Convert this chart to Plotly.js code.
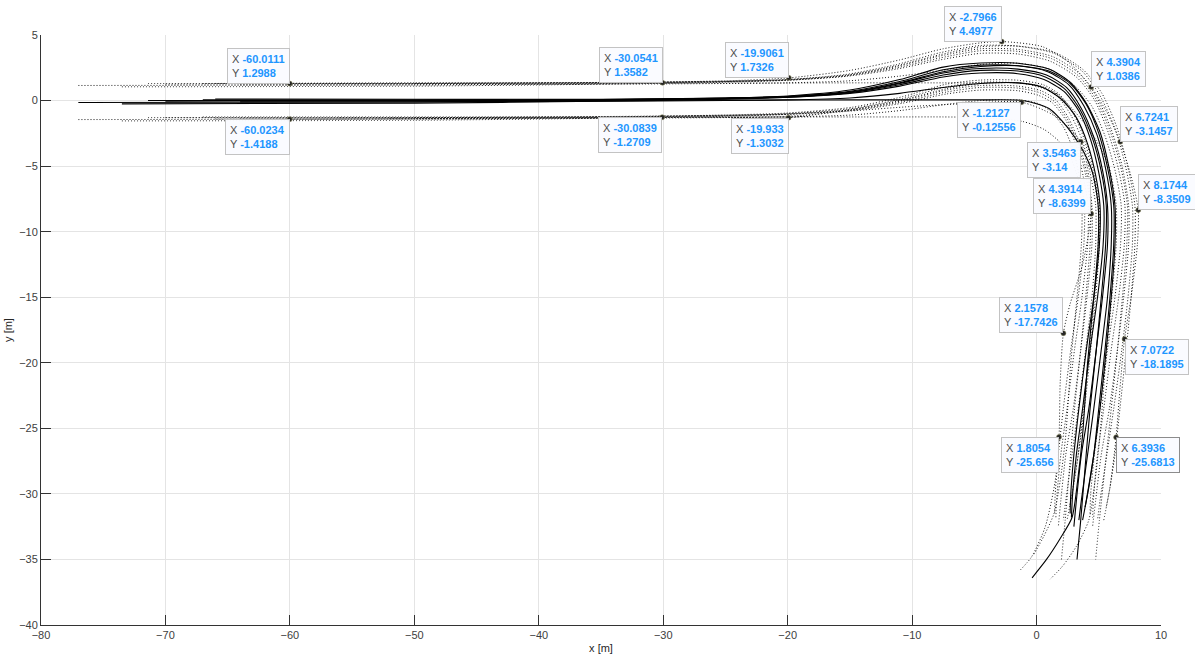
<!DOCTYPE html>
<html>
<head>
<meta charset="utf-8">
<script src="https://cdn.plot.ly/plotly-3.0.1.min.js"></script>
<style>html,body{margin:0;padding:0;background:#fff;}#chart{width:1195px;height:658px;}</style>
</head>
<body>
<div id="chart"></div>
<script>
// ---------- Solid trajectories ----------
const sa_x = [-56, -50, -35, -25, -20, -15, -11, -7.5, -4.5, -1.5, 1.0, 2.7, 4.0, 5.1, 5.8, 6.3, 6.3, 6.0, 5.6, 5.1, 4.6, 4.0, 3.7];
const sa_y = [0.0, 0.0, 0.05, 0.2, 0.35, 0.8, 1.6, 2.55, 2.86, 2.85, 2.4, 1.4, -0.2, -2.4, -5.0, -8.0, -11, -15, -19, -23.5, -27, -30.5, -32];
const sb_x = [-77, -50, -35, -25, -20, -15, -11, -7.5, -4.5, -1.5, 0.9, 2.6, 3.8, 4.85, 5.55, 6.0, 6.0, 5.7, 5.2, 4.6, 4.1, 3.6, 3.4];
const sb_y = [-0.15, -0.1, 0.0, 0.15, 0.3, 0.7, 1.45, 2.35, 2.7, 2.65, 2.2, 1.2, -0.4, -2.6, -5.2, -8.0, -11, -15, -19, -23.5, -27, -30.5, -32];
const sc_x = [-73.5, -50, -35, -25, -20, -15, -11, -7.5, -4.5, -1.5, 0.8, 2.4, 3.6, 4.6, 5.3, 5.7, 5.7, 5.3, 4.8, 4.2, 3.6, 3.2, 3.0];
const sc_y = [-0.25, -0.2, -0.05, 0.1, 0.25, 0.6, 1.3, 2.1, 2.45, 2.4, 1.95, 1.0, -0.6, -2.8, -5.3, -8.0, -11, -15, -19, -23.5, -27, -30.5, -32.5];
const sd_x = [-71.4, -50, -35, -25, -20, -15, -11, -7.5, -4.5, -1.5, 0.6, 2.2, 3.4, 4.35, 5.0, 5.4, 5.35, 4.9, 4.3, 3.7, 3.2, 2.9, 2.8];
const sd_y = [0.0, 0.0, 0.05, 0.15, 0.25, 0.55, 1.1, 1.8, 2.1, 2.05, 1.6, 0.7, -0.8, -3.0, -5.5, -8.0, -11, -15, -19, -23.5, -27, -30, -31.8];
const se_x = [-66, -50, -35, -25, -20, -15, -11, -7.5, -4.5, -1.5, 1.0, 2.7, 4.0, 5.0, 5.7, 6.2, 6.2, 5.9, 5.5, 5.0, 4.6, 4.2, 3.9];
const se_y = [0.12, 0.1, 0.1, 0.2, 0.3, 0.65, 1.35, 2.2, 2.6, 2.65, 2.25, 1.3, -0.3, -2.5, -5.1, -8.0, -11, -15, -19, -23.5, -27, -29.5, -31];
const sf_x = [-64, -50, -35, -25, -20, -15, -11, -7.5, -4.5, -1.5, 0.5, 2.0, 3.2, 4.1, 4.75, 5.1, 5.05, 4.6, 4.0, 3.4, 3.0, 2.75, 2.7];
const sf_y = [-0.1, -0.1, -0.05, 0.0, 0.05, 0.2, 0.55, 1.0, 1.3, 1.35, 1.0, 0.1, -1.3, -3.3, -5.7, -8.0, -11, -15, -19, -23.5, -27, -30, -31.5];
const sg_x = [-70, -50, -35, -25, -20, -15, -11, -7.5, -4.5, -1.1, 1.0, 2.45, 3.6, 4.5, 4.95, 4.95, 4.6, 4.1, 3.7, 3.3, 2.85, 1.9, 0.8, -0.36];
const sg_y = [-0.05, 0.0, 0.02, 0.03, 0.04, 0.05, 0.05, 0.05, 0.05, 0.0, -0.6, -2.0, -3.6, -5.5, -8.0, -11, -15, -20, -25.5, -29, -31.8, -33.4, -35, -36.4];
const sh_x = [-67, -50, -35, -25, -20, -15, -11, -7.5, -4.5, -1.5, 0.7, 2.3, 3.5, 4.5, 5.2, 5.6, 5.55, 5.2, 4.8, 4.3, 3.9, 3.55, 3.25];
const sh_y = [0.05, 0.05, 0.08, 0.18, 0.28, 0.6, 1.2, 1.95, 2.3, 2.25, 1.8, 0.85, -0.7, -2.9, -5.4, -8.0, -11, -15, -19, -23.5, -28, -32, -35];

// ---------- Dotted outer bounds ----------
const oa_x = [-56, -50, -35, -25, -19.9, -15, -11, -7.5, -4.5, -2.8, 0.5, 2.6, 4.39, 5.7, 6.72, 7.6, 8.17, 8.1, 7.6, 7.07, 6.7, 6.39, 5.9, 5.4];
const oa_y = [1.3, 1.3, 1.38, 1.5, 1.73, 2.3, 3.1, 3.95, 4.4, 4.5, 4.1, 2.9, 1.04, -1.0, -3.15, -5.8, -8.35, -11, -15, -18.19, -22, -25.68, -29.5, -32];
const ob_x = [-77, -50, -35, -25, -20, -15.25, -11.25, -7.75, -4.5, -1.5, 1.4, 3.65, 5.05, 6.25, 7.1, 7.7, 7.7, 7.35, 6.85, 6.2, 5.65, 5.1, 4.9];
const ob_y = [1.15, 1.2, 1.3, 1.45, 1.6, 2.0, 2.75, 3.65, 4.2, 4.15, 3.6, 2.25, 0.45, -2.0, -4.8, -8.0, -11, -15, -19, -23.5, -27, -30.5, -32];
const oc_x = [-73.5, -50, -35, -25, -20, -15.25, -11.25, -7.75, -4.5, -1.5, 1.3, 3.45, 4.85, 6.0, 6.85, 7.4, 7.4, 7.0, 6.5, 5.85, 5.2, 4.75, 4.5];
const oc_y = [1.05, 1.1, 1.25, 1.4, 1.55, 1.9, 2.6, 3.4, 3.95, 3.9, 3.35, 2.05, 0.25, -2.2, -4.9, -8.0, -11, -15, -19, -23.5, -27, -30.5, -32.5];
const od_x = [-71.4, -50, -35, -25, -20, -15.25, -11.25, -7.75, -4.5, -1.5, 1.1, 3.25, 4.65, 5.75, 6.55, 7.1, 7.05, 6.6, 6.0, 5.4, 4.9, 4.6, 4.5];
const od_y = [1.3, 1.3, 1.35, 1.45, 1.55, 1.85, 2.4, 3.1, 3.6, 3.55, 3.0, 1.75, 0.05, -2.4, -5.1, -8.0, -11, -15, -19, -23.5, -27, -30, -31.8];
const oe_x = [-66, -60.0111, -50, -30.0541, -25, -20, -15.25, -11.25, -7.75, -4.5, -1.5, 1.5, 3.75, 5.25, 6.4, 7.25, 7.9, 7.9, 7.6, 7.2, 6.7, 6.3, 5.9, 5.6];
const oe_y = [1.3, 1.2988, 1.32, 1.3582, 1.45, 1.6, 1.95, 2.65, 3.5, 4.1, 4.15, 3.65, 2.35, 0.55, -1.9, -4.7, -8.0, -11, -15, -19, -23.5, -27, -29.5, -31];
const of_x = [-64, -50, -35, -25, -20, -15.15, -11.15, -7.6, -4.5, -1.5, 1.0, 3.05, 4.45, 5.5, 6.3, 6.8, 6.75, 6.3, 5.7, 5.1, 4.65, 4.35, 4.3];
const of_y = [1.2, 1.2, 1.25, 1.3, 1.35, 1.5, 1.85, 2.3, 2.75, 2.85, 2.4, 1.15, -0.45, -2.7, -5.3, -8.0, -11, -15, -19, -23.5, -27, -30, -31.5];
const og_x = [-70, -50, -35, -25, -20, -15, -11, -7.5, -4.5, -0.9, 1.6, 3.4, 4.7, 5.8, 6.4, 6.4, 6.05, 5.55, 5.1, 4.7, 4.2, 3.2, 2.1, 1.1];
const og_y = [1.25, 1.3, 1.32, 1.33, 1.34, 1.35, 1.35, 1.35, 1.35, 1.3, 0.5, -1.2, -2.9, -5.0, -8.0, -11, -15, -20, -25.5, -29, -32, -34, -35.5, -36.5];
const oh_x = [-67, -50, -35, -25, -20, -15.25, -11.25, -7.75, -4.5, -1.5, 1.2, 3.35, 4.75, 5.9, 6.75, 7.3, 7.25, 6.9, 6.5, 6.0, 5.5, 5.05, 4.75];
const oh_y = [1.3, 1.35, 1.38, 1.48, 1.58, 1.9, 2.5, 3.25, 3.8, 3.75, 3.2, 1.9, 0.15, -2.3, -5.0, -8.0, -11, -15, -19, -23.5, -28, -32, -35];

// ---------- Dotted inner bounds ----------
const ia_x = [-56, -50, -35, -25, -20, -14.75, -10.75, -7.25, -4.5, -1.5, 0.55, 1.8, 2.95, 3.95, 4.55, 5.05, 5.05, 4.75, 4.35, 3.85, 3.35, 2.75, 2.45];
const ia_y = [-1.3, -1.3, -1.25, -1.1, -0.95, -0.5, 0.3, 1.25, 1.56, 1.55, 1.2, 0.5, -0.9, -2.9, -5.3, -8.0, -11, -15, -19, -23.5, -27, -30.5, -32];
const ib_x = [-77, -50, -35, -25, -20, -14.75, -10.75, -7.25, -4.5, -1.5, 0.45, 1.7, 2.75, 3.7, 4.3, 4.75, 4.75, 4.45, 3.95, 3.35, 2.85, 2.35, 2.15];
const ib_y = [-1.45, -1.4, -1.3, -1.15, -1.0, -0.6, 0.15, 1.05, 1.4, 1.35, 1.0, 0.3, -1.1, -3.1, -5.5, -8.0, -11, -15, -19, -23.5, -27, -30.5, -32];
const ic_x = [-73.5, -50, -35, -25, -20, -14.75, -10.75, -7.25, -4.5, -1.5, 0.35, 1.5, 2.55, 3.45, 4.05, 4.45, 4.45, 4.05, 3.55, 2.95, 2.35, 1.95, 1.75];
const ic_y = [-1.55, -1.5, -1.35, -1.2, -1.05, -0.7, 0.0, 0.8, 1.15, 1.1, 0.75, 0.1, -1.3, -3.3, -5.6, -8.0, -11, -15, -19, -23.5, -27, -30.5, -32.5];
const id_x = [-71.4, -50, -35, -25, -20, -14.75, -10.75, -7.25, -4.5, -1.5, 0.15, 1.3, 2.35, 3.2, 3.75, 4.15, 4.1, 3.65, 3.05, 2.45, 1.95, 1.65, 1.55];
const id_y = [-1.3, -1.3, -1.25, -1.15, -1.05, -0.75, -0.2, 0.5, 0.8, 0.75, 0.4, -0.2, -1.5, -3.5, -5.8, -8.0, -11, -15, -19, -23.5, -27, -30, -31.8];
const ie_x = [-66, -60.0234, -50, -30.0839, -25, -19.933, -14.75, -10.75, -7.25, -4.5, -1.5, 0.55, 1.8, 2.95, 3.85, 4.45, 4.95, 4.95, 4.65, 4.25, 3.75, 3.35, 2.95, 2.65];
const ie_y = [-1.4, -1.4188, -1.38, -1.2709, -1.28, -1.3032, -0.65, 0.05, 0.9, 1.3, 1.35, 1.05, 0.4, -1.0, -3.0, -5.4, -8.0, -11, -15, -19, -23.5, -27, -29.5, -31];
const if_x = [-64, -50, -35, -25, -20, -14.85, -10.85, -7.35, -4.5, -1.5, 0.05, 1.1, 2.15, 2.95, 3.5, 3.85, 3.8, 3.35, 2.75, 2.15, 1.75, 1.5, 1.45];
const if_y = [-1.4, -1.4, -1.35, -1.3, -1.25, -1.1, -0.75, -0.3, 0.0, 0.05, -0.2, -0.8, -2.0, -3.8, -6.0, -8.0, -11, -15, -19, -23.5, -27, -30, -31.5];
const ig_x = [-70, -50, -35, -25, -20, -15, -11, -7.5, -4.5, -1.1, 0.6, 1.9, 2.8, 3.4, 3.65, 3.6, 3.25, 2.75, 2.35, 1.9, 1.4, 0.6, -0.2];
const ig_y = [-1.3, -1.3, -1.27, -1.25, -1.25, -1.25, -1.25, -1.25, -1.3, -1.6, -2.2, -3.2, -4.5, -6.2, -8.3, -11, -15, -20, -25.5, -29, -31.5, -33.2, -34.6];
const ih_x = [-67, -50, -35, -25, -20, -14.75, -10.75, -7.25, -4.5, -1.5, 0.25, 1.4, 2.45, 3.35, 3.95, 4.35, 4.3, 3.95, 3.55, 3.05, 2.65, 2.3, 2.0];
const ih_y = [-1.25, -1.25, -1.22, -1.12, -1.02, -0.7, -0.1, 0.65, 1.0, 0.95, 0.6, -0.05, -1.4, -3.4, -5.7, -8.0, -11, -15, -19, -23.5, -28, -32, -35];
const ix_x = [-52, -35, -25, -20, -15, -10, -6, -1.2127, 1.5, 3.5463, 4.2, 4.3914, 3.7, 2.7, 2.1578, 1.9, 1.8054, 1.5, 0.7, -0.4, -1.3];
const ix_y = [-1.35, -1.3, -1.28, -1.2, -0.8, -0.45, -0.25, -0.12556, -1.2, -3.14, -5.8, -8.6399, -12.5, -15.5, -17.7426, -21.5, -25.656, -29, -32.5, -34.8, -35.8];

// ---------- Data tips ----------
const tip_x = [-60.0111, -60.0234, -30.0541, -30.0839, -19.9061, -19.933, -2.7966, 4.3904, -1.2127, 6.7241, 3.5463, 4.3914, 8.1744, 2.1578, 7.0722, 1.8054, 6.3936];
const tip_y = [1.2988, -1.4188, 1.3582, -1.2709, 1.7326, -1.3032, 4.4977, 1.0386, -0.12556, -3.1457, -3.14, -8.6399, -8.3509, -17.7426, -18.1895, -25.656, -25.6813];
// box corner placement for each tip (style only)
const tip_anchor = ['rb','rt','rb','rt','rb','rt','rb','lb','rt','lb','rt','rb','lb','rb','lt','rt','lt'];

const solids = [[sa_x,sa_y],[sb_x,sb_y],[sc_x,sc_y],[sd_x,sd_y],[se_x,se_y],[sf_x,sf_y],[sg_x,sg_y],[sh_x,sh_y]];
const dotted = [[oa_x,oa_y],[ob_x,ob_y],[oc_x,oc_y],[od_x,od_y],[oe_x,oe_y],[of_x,of_y],[og_x,og_y],[oh_x,oh_y],
                [ia_x,ia_y],[ib_x,ib_y],[ic_x,ic_y],[id_x,id_y],[ie_x,ie_y],[if_x,if_y],[ig_x,ig_y],[ih_x,ih_y],[ix_x,ix_y]];

const traces = [];
dotted.forEach(d => traces.push({
  x: d[0], y: d[1], type: 'scatter', mode: 'lines', hoverinfo: 'skip', showlegend: false,
  line: {color: '#1a1a1a', width: 1, dash: '1px,2px', shape: 'spline', smoothing: 0.7}
}));
solids.forEach(d => traces.push({
  x: d[0], y: d[1], type: 'scatter', mode: 'lines', hoverinfo: 'skip', showlegend: false,
  line: {color: '#000000', width: 1.1, shape: 'spline', smoothing: 0.7}
}));
traces.push({
  x: tip_x, y: tip_y, type: 'scatter', mode: 'markers', hoverinfo: 'skip', showlegend: false,
  marker: {color: '#262626', size: 5, line: {color: '#8a8a5a', width: 0.5}}
});

const blue = '#1e96ff';
const annotations = tip_x.map((x, i) => {
  const a = tip_anchor[i];
  return {
    x: x, y: tip_y[i], xref: 'x', yref: 'y', showarrow: false,
    xanchor: a[0] === 'r' ? 'right' : 'left',
    yanchor: a[1] === 'b' ? 'bottom' : 'top',
    align: 'left',
    text: 'X <b><span style="color:' + blue + '">' + String(x) + '</span></b><br>Y <b><span style="color:' + blue + '">' + String(tip_y[i]) + '</span></b>',
    font: {family: 'Liberation Sans, Arial, sans-serif', size: 11, color: '#4d4d4d'},
    bgcolor: 'rgba(250,251,255,0.97)',
    bordercolor: i === 16 ? '#8c8c8c' : '#c3c3c3',
    borderwidth: 1,
    borderpad: 4
  };
});

const axisCommon = {
  showline: true, linecolor: '#333333', linewidth: 1,
  ticks: 'inside', ticklen: 10, tickcolor: '#333333', tickwidth: 1,
  showgrid: true, gridcolor: '#e4e4e4', gridwidth: 1,
  zeroline: false, mirror: false,
  tickfont: {family: 'Liberation Sans, Arial, sans-serif', size: 11, color: '#404040'}
};

const layout = {
  width: 1195, height: 658,
  margin: {l: 41, r: 34, t: 35, b: 33},
  paper_bgcolor: '#ffffff', plot_bgcolor: '#ffffff',
  showlegend: false,
  xaxis: Object.assign({}, axisCommon, {
    range: [-80, 10], dtick: 10, tick0: 0,
    title: {text: 'x [m]', font: {family: 'Liberation Sans, Arial, sans-serif', size: 11, color: '#262626'}, standoff: 4}
  }),
  yaxis: Object.assign({}, axisCommon, {
    range: [-40, 5], dtick: 5, tick0: 0,
    title: {text: 'y [m]', font: {family: 'Liberation Sans, Arial, sans-serif', size: 11, color: '#262626'}, standoff: 4}
  }),
  annotations: annotations
};

Plotly.newPlot('chart', traces, layout, {displayModeBar: false, staticPlot: true});
</script>
</body>
</html>
